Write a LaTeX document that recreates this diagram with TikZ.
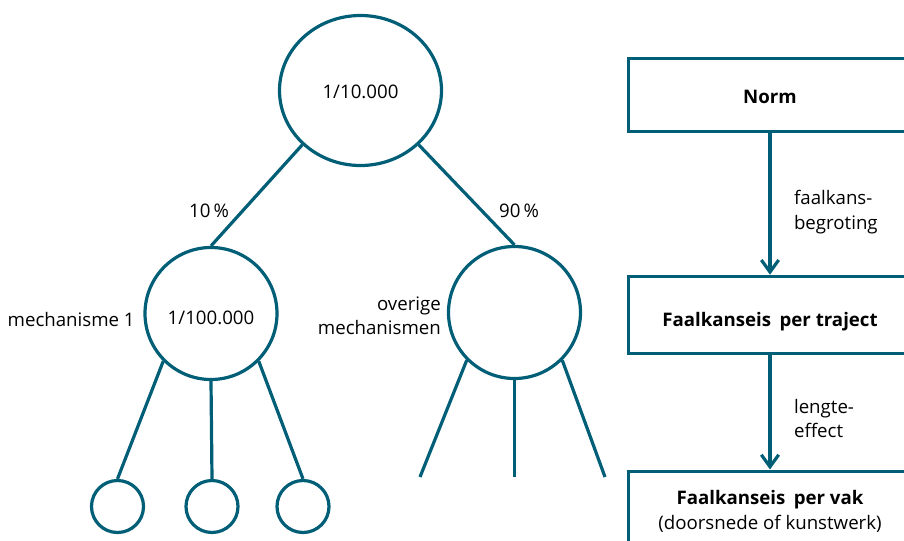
\documentclass[tikz,border=0pt]{standalone}
\usepackage{fontspec}
\setmainfont{Open Sans}
\usetikzlibrary{arrows.meta,positioning,shapes.geometric}
\definecolor{dijk}{RGB}{0,94,118}

\begin{document}
\begin{tikzpicture}[x=0.75pt, y=-0.75pt,
  every node/.style={font=\fontsize{14}{18.5}\selectfont},
  kans/.style={circle, draw=dijk, line width=2.4pt, minimum size=#1, inner sep=0pt},
  blok/.style={rectangle, draw=dijk, line width=2.4pt, minimum width=212pt, align=center},
  tak/.style={draw=dijk, line width=2.4pt},
  pijl/.style={tak, -{Straight Barb[length=9pt, width=13pt]}}]

\useasboundingbox (0,0) rectangle (904,540);
\clip (0,0) rectangle (904,540);

% kansboom
\node [ellipse, draw=dijk, line width=2.4pt, minimum width=121.5pt, minimum height=112.5pt,
       inner sep=0pt, text height=12.2pt, text depth=0pt] (top) at (360.5,90.5) {1/10.000};
\node [kans=99pt, text height=16.8pt, text depth=0pt] (mech1) at (211,313.5) {1/100.000};
\node [kans=99pt] (mech2) at (514.5,312.5) {};

\node [kans=39pt] (s1) at (117.5,506.5) {};
\node [kans=39pt] (s2) at (212,506.5) {};
\node [kans=39pt] (s3) at (303,506.5) {};

\coordinate (e1) at (420,477);
\coordinate (e2) at (514.5,477);
\coordinate (e3) at (605,477);

\node [left=3pt of mech1, yshift=-4.5pt] (lab1) {mechanisme 1};
\node [left=1pt of mech2, align=right, yshift=-2.5pt] (lab2) {overige\\mechanismen};

\node (p10) at (209,211) {10\,\%};
\node (p90) at (519,211) {90\,\%};

\draw [tak] (top.223) -- (mech1.north);
\draw [tak] (top.317) -- (mech2.north);

\draw [tak] (mech1.225) -- (s1.north);
\draw [tak] (mech1.south) -- (s2.north);
\draw [tak] (mech1.315) -- (s3.north);

\draw [tak] (mech2.225) -- (e1);
\draw [tak] (mech2.south) -- (e2);
\draw [tak] (mech2.315) -- (e3);

% normstappen
\node [blok, minimum height=55pt, text height=13pt, text depth=0pt] (norm) at (770,95) {\bfseries Norm};
\node [blok, minimum height=58pt, text height=16.8pt, text depth=0pt] (traject) at (770,315) {\bfseries Faalkanseis\hspace{0.45em}per traject};
\node [blok, minimum height=60pt, anchor=north] (vak) at (770,469.5) {\textbf{Faalkanseis\hspace{0.45em}per vak}\\(doorsnede of kunstwerk)};

\draw [pijl] (norm) -- (traject) node [midway, right=13.5pt, yshift=-6pt, align=left] (lab3) {faalkans-\\begroting};
\draw [pijl] (traject) -- (vak) node [midway, right=13.5pt, yshift=-4.5pt, align=left] (lab4) {lengte-\\effect};

\end{tikzpicture}
\end{document}
